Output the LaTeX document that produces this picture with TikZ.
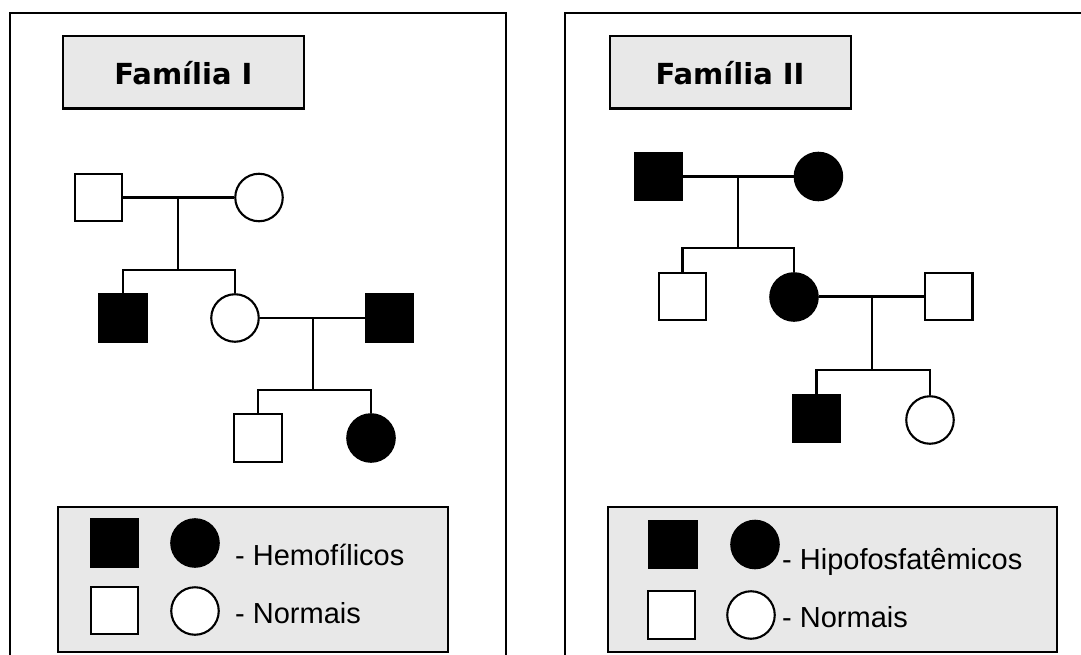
\documentclass[tikz,border=0pt]{standalone}
\usepackage{fontspec}
\setmainfont{Liberation Sans}
\newfontfamily\titlefont{DejaVu Sans}
\definecolor{lg}{HTML}{E8E8E8}
\begin{document}
\begin{tikzpicture}[x=1pt,y=-1pt,
  frame/.style={draw=black,line width=2.2pt},
  gbox/.style={draw=black,line width=2.2pt,fill=lg},
  sq/.style={draw=black,line width=2.1pt,rectangle,minimum size=47.5pt,inner sep=0pt,fill=white},
  ci/.style={draw=black,line width=2.1pt,circle,minimum size=47.5pt,inner sep=0pt,fill=white},
  aff/.style={fill=black},
  link/.style={line width=2.1pt},
  ttl/.style={inner sep=0pt,anchor=base,font=\titlefont\bfseries\fontsize{29}{34}\selectfont},
  lgt/.style={inner sep=0pt,anchor=base west,font=\fontsize{29}{34}\selectfont}]
\useasboundingbox (0,0) rectangle (1081,655);
\clip (0,0) rectangle (1081,655);
\fill[white] (0,0) rectangle (1081,655);
% outer frames
\draw[frame] (10,700) -- (10,13) -- (506,13) -- (506,700);
\draw[frame] (565,700) -- (565,13) -- (1100,13);
% title boxes
\draw[gbox] (63,36) rectangle (304,108.5);
\node[ttl] (t1) at (183.4,84.3) {Família I};
\draw[gbox] (610,36) rectangle (850.7,108.5);
\node[ttl] (t2) at (730,84.3) {Família II};
% ---------- Family I ----------
\node[sq] (f1) at (98.5,197.5) {};
\node[ci] (m1) at (259,197.5) {};
\node[sq,aff] (c11) at (123,318) {};
\node[ci] (c12) at (235,318) {};
\node[sq,aff] (p1) at (389.5,318) {};
\node[sq] (g1) at (258,438) {};
\node[ci,aff] (g2) at (371,438) {};
\coordinate (u1) at (178,197.5);
\coordinate (s1) at (178,270);
\coordinate (u2) at (313,318);
\coordinate (s2) at (313,390);
\draw[link] (f1.east) -- (m1.west);
\draw[link] (u1) -- (s1);
\draw[link] (c11.north) -- (c11.north |- s1) -- (c12.north |- s1) -- (c12.north);
\draw[link] (c12.east) -- (p1.west);
\draw[link] (u2) -- (s2);
\draw[link] (g1.north) -- (g1.north |- s2) -- (g2.north |- s2) -- (g2.north);
% ---------- Family II ----------
\node[sq,aff] (f2) at (658.5,176.5) {};
\node[ci,aff] (m2) at (818.4,176.5) {};
\node[sq] (d1) at (682.5,296.5) {};
\node[ci,aff] (d2) at (794,297) {};
\node[sq] (p2) at (948.7,296.5) {};
\node[sq,aff] (h1) at (816.5,418.5) {};
\node[ci] (h2) at (930,420) {};
\coordinate (u3) at (738.3,176.5);
\coordinate (s3) at (738.3,248);
\coordinate (u4) at (872,296.5);
\coordinate (s4) at (872,370);
\draw[link] (f2.east) -- (m2.west);
\draw[link] (u3) -- (s3);
\draw[link] (d1.north) -- (d1.north |- s3) -- (d2.north |- s3) -- (d2.north);
\draw[link] (d2.east |- u4) -- (p2.west);
\draw[link] (u4) -- (s4);
\draw[link] (h1.north) -- (h1.north |- s4) -- (h2.north |- s4) -- (h2.north);
% ---------- Legend I ----------
\draw[gbox] (58,507) rectangle (448,652);
\node[sq,aff] (ls1) at (114.5,543) {};
\node[ci,aff] (lc1) at (195,543) {};
\node[lgt] (lt1) at (235,565) {- Hemofílicos};
\node[sq] (ls2) at (114.5,610.5) {};
\node[ci] (lc2) at (195,611) {};
\node[lgt] (lt2) at (235,623) {- Normais};
% ---------- Legend II ----------
\draw[gbox] (608,507) rectangle (1057,652);
\node[sq,aff] (ls3) at (673,544.5) {};
\node[ci,aff] (lc3) at (755,544.5) {};
\node[lgt] (lt3) at (782,569) {- Hipofosfatêmicos};
\node[sq] (ls4) at (671.5,615) {};
\node[ci] (lc4) at (751,615) {};
\node[lgt] (lt4) at (782,627) {- Normais};
\end{tikzpicture}
\end{document}
